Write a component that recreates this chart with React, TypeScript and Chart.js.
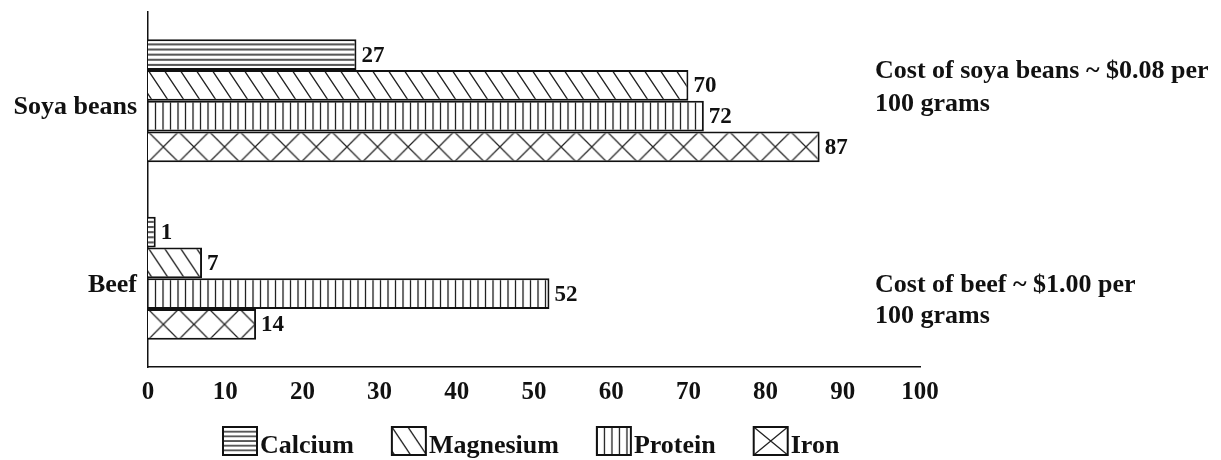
import React, { useEffect, useRef } from 'react';
import { Chart, registerables } from 'chart.js';

Chart.register(...registerables);

// ---------- data ----------
const categories = ['Soya beans', 'Beef'];
const seriesNames = ['Calcium', 'Magnesium', 'Protein', 'Iron'];
const calcium = [27, 1];
const magnesium = [70, 7];
const protein = [72, 52];
const iron = [87, 14];
const xTickValues = [0, 10, 20, 30, 40, 50, 60, 70, 80, 90, 100];
const soyaNote = ['Cost of soya beans ~ $0.08 per', '100 grams'];
const beefNote = ['Cost of beef ~ $1.00 per', '100 grams'];

// ---------- style ----------
const W = 1221;
const H = 460;
const FONT = '"Liberation Serif", "Times New Roman", serif';
const INK = '#111';
const HATCH = '#222';
const CAT_PCT = 0.693;
type Kind = 'h' | 'd' | 'v' | 'x';
const kinds: Kind[] = ['h', 'd', 'v', 'x'];

const tileCache: Record<string, HTMLCanvasElement> = {};
function tile(kind: Kind): HTMLCanvasElement {
  if (tileCache[kind]) return tileCache[kind];
  const c = document.createElement('canvas');
  let w = 8, h = 5;
  if (kind === 'd') { w = 16; h = 24; }
  if (kind === 'v') { w = 15; h = 8; }
  if (kind === 'x') { w = 32; h = 32; }
  c.width = w; c.height = h;
  const g = c.getContext('2d')!;
  g.fillStyle = '#fff';
  g.fillRect(0, 0, w, h);
  g.strokeStyle = HATCH;
  g.lineWidth = 1.3;
  g.beginPath();
  if (kind === 'h') {
    g.moveTo(0, 0); g.lineTo(w, 0);
    g.moveTo(0, h); g.lineTo(w, h);
  } else if (kind === 'v') {
    [0, 7.5, 15].forEach((x) => { g.moveTo(x, 0); g.lineTo(x, h); });
  } else if (kind === 'd') {
    [-w, 0, w].forEach((dx) => { g.moveTo(dx - w, -h); g.lineTo(dx + 2 * w, 2 * h); });
  } else {
    g.moveTo(-w, -h); g.lineTo(2 * w, 2 * h);
    g.moveTo(2 * w, -h); g.lineTo(-w, 2 * h);
  }
  g.stroke();
  tileCache[kind] = c;
  return c;
}

function patternAt(ctx2d: CanvasRenderingContext2D, kind: Kind, x0: number, y0: number, barH: number, cellW?: number) {
  const p = ctx2d.createPattern(tile(kind), 'repeat')!;
  let sx = 1, sy = 1;
  if (kind === 'h') sy = barH / 6 / 5;
  if (kind === 'x') { sx = (cellW ?? 30.6) / 32; sy = barH / 32; }
  const m = new DOMMatrix().translateSelf(x0, y0).scaleSelf(sx, sy);
  p.setTransform(m);
  return p;
}

function fillFor(kind: Kind) {
  return (ctx: any) => {
    const chart = ctx.chart;
    const xs = chart.scales?.x;
    const ys = chart.scales?.y;
    if (!xs || !ys || ctx.type !== 'data' || !chart.chartArea) return '#fff';
    const n = chart.data.labels.length;
    const catH = (ys.bottom - ys.top) / n;
    const groupH = catH * CAT_PCT;
    const barH = groupH / chart.data.datasets.length;
    const top = ys.getPixelForValue(ctx.dataIndex) - groupH / 2 + ctx.datasetIndex * barH;
    return patternAt(chart.ctx, kind, xs.left, top, barH);
  };
}

const valueLabels = {
  id: 'valueLabels',
  afterDatasetsDraw(chart: any) {
    const c = chart.ctx;
    c.save();
    c.font = `bold 23px ${FONT}`;
    c.fillStyle = INK;
    c.textAlign = 'left';
    c.textBaseline = 'middle';
    chart.data.datasets.forEach((ds: any, i: number) => {
      const meta = chart.getDatasetMeta(i);
      meta.data.forEach((el: any, j: number) => {
        c.fillText(String(ds.data[j]), el.x + 5, el.y + 1);
      });
    });
    c.restore();
  },
};

const sideNotes = {
  id: 'sideNotes',
  afterDraw(chart: any) {
    const c = chart.ctx;
    const ys = chart.scales.y;
    const x = chart.chartArea.right - 45;
    c.save();
    c.font = `bold 26px ${FONT}`;
    c.fillStyle = INK;
    c.textAlign = 'left';
    c.textBaseline = 'alphabetic';
    const soyaY = ys.getPixelForValue(0);
    c.fillText(soyaNote[0], x, soyaY - 23);
    c.fillText(soyaNote[1], x, soyaY + 10);
    const beefY = ys.getPixelForValue(1);
    c.fillText(beefNote[0], x, beefY + 14);
    c.fillText(beefNote[1], x, beefY + 45);
    c.restore();
  },
};

const hatchLegend = {
  id: 'hatchLegend',
  afterDraw(chart: any) {
    const c = chart.ctx;
    c.save();
    c.font = `bold 26px ${FONT}`;
    c.fillStyle = INK;
    c.textBaseline = 'alphabetic';
    c.textAlign = 'left';
    const bw = 34, bh = 28, top = 427;
    let x = 223;
    chart.data.datasets.forEach((ds: any, i: number) => {
      const kind = kinds[i];
      c.fillStyle = '#fff';
      c.fillRect(x, top, bw, bh);
      if (kind === 'x') {
        c.strokeStyle = HATCH;
        c.lineWidth = 1.3;
        c.beginPath();
        c.moveTo(x, top); c.lineTo(x + bw, top + bh);
        c.moveTo(x + bw, top); c.lineTo(x, top + bh);
        c.stroke();
      } else {
        c.fillStyle = patternAt(c, kind, x, top, bh);
        c.fillRect(x, top, bw, bh);
      }
      c.strokeStyle = INK;
      c.lineWidth = 2;
      c.strokeRect(x, top, bw, bh);
      c.fillStyle = INK;
      c.fillText(ds.label, x + bw + 3, top + 26);
      x += bw + 3 + c.measureText(ds.label).width + 38;
    });
    c.restore();
  },
};

export default function App() {
  const ref = useRef<HTMLCanvasElement | null>(null);
  useEffect(() => {
    document.body.style.margin = '0';
    document.body.style.overflow = 'hidden';
    const canvas = ref.current!;
    const seriesValues = [calcium, magnesium, protein, iron];
    const chart = new Chart(canvas, {
      type: 'bar',
      data: {
        labels: categories,
        datasets: seriesNames.map((name, i) => ({
          label: name,
          data: seriesValues[i],
          backgroundColor: fillFor(kinds[i]) as any,
          borderColor: INK,
          borderWidth: 2,
          borderSkipped: 'start',
          barPercentage: 1,
          categoryPercentage: CAT_PCT,
        })),
      },
      options: {
        indexAxis: 'y',
        responsive: false,
        animation: false,
        events: [],
        layout: { padding: { top: 12, right: W - 920, left: 0, bottom: 0 } },
        plugins: {
          legend: { display: false },
          tooltip: { enabled: false },
        },
        scales: {
          x: {
            type: 'linear',
            min: 0,
            max: 100,
            afterBuildTicks: (s: any) => { s.ticks = xTickValues.map((v) => ({ value: v })); },
            afterFit: (s: any) => { s.height = H - 367; s.paddingLeft = 0; s.paddingRight = 0; },
            ticks: { font: { family: FONT, size: 25, weight: 'bold' }, color: INK, padding: 11, maxRotation: 0, autoSkip: false },
            grid: { display: false, drawTicks: false },
            border: { display: true, color: INK, width: 1.5 },
          },
          y: {
            type: 'category',
            afterFit: (s: any) => { s.width = 148; s.paddingTop = 0; s.paddingBottom = 0; },
            ticks: { font: { family: FONT, size: 26, weight: 'bold' }, color: INK, padding: 11, labelOffset: 7 },
            grid: { display: false, drawTicks: false },
            border: { display: true, color: INK, width: 1.5 },
          },
        },
      },
      plugins: [valueLabels, sideNotes, hatchLegend],
    });
    return () => chart.destroy();
  }, []);
  return (
    <div style={{ width: W, height: H, background: '#fff' }}>
      <canvas ref={ref} width={W} height={H} style={{ display: 'block', width: W, height: H }} />
    </div>
  );
}
